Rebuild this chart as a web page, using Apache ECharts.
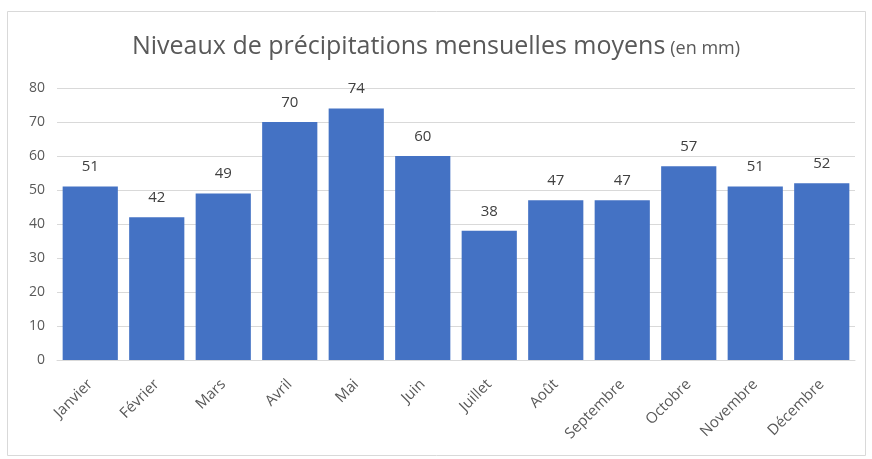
<!DOCTYPE html>
<html>
<head>
<meta charset="utf-8">
<script src="https://cdn.jsdelivr.net/npm/echarts@6/dist/echarts.min.js"></script>
<style>
  html, body { margin: 0; padding: 0; background: #ffffff; }
  #chart { width: 872px; height: 459px; }
</style>
</head>
<body>
<div id="chart"></div>
<script>
// Average monthly rainfall (mm)
const months = ['Janvier', 'Février', 'Mars', 'Avril', 'Mai', 'Juin', 'Juillet', 'Août', 'Septembre', 'Octobre', 'Novembre', 'Décembre'];
const rainfall = [51, 42, 49, 70, 74, 60, 38, 47, 47, 57, 51, 52];
const yTicks = { min: 0, max: 80, step: 10 };

const FONT = '"Open Sans", "Noto Sans", sans-serif';

const chart = echarts.init(document.getElementById('chart'), null, { renderer: 'canvas' });
chart.setOption({
  backgroundColor: '#ffffff',
  animation: false,
  graphic: [{
    type: 'rect',
    shape: { x: 7.5, y: 11.5, width: 858, height: 444 },
    style: { fill: 'none', stroke: '#d9d9d9', lineWidth: 1 },
    silent: true
  }],
  title: {
    text: '{main|Niveaux de précipitations mensuelles moyens} {small|(en mm)}',
    left: 'center',
    top: 29,
    textStyle: {
      fontWeight: 'normal',
      rich: {
        main: { fontFamily: FONT, fontSize: 25, fontWeight: 'normal', color: '#595959' },
        small: { fontFamily: FONT, fontSize: 18, fontWeight: 'normal', color: '#595959', padding: [4, 0, 0, 0] }
      }
    }
  },
  grid: { left: 57, right: 17, top: 88, bottom: 99, containLabel: false },
  xAxis: {
    type: 'category',
    data: months,
    axisLine: { lineStyle: { color: '#d9d9d9' } },
    axisTick: { show: false },
    axisLabel: {
      rotate: 45,
      interval: 0,
      margin: 22,
      fontFamily: FONT,
      fontSize: 15,
      color: '#595959'
    }
  },
  yAxis: {
    type: 'value',
    min: yTicks.min,
    max: yTicks.max,
    interval: yTicks.step,
    axisLine: { show: false },
    axisTick: { show: false },
    splitLine: { lineStyle: { color: '#d9d9d9' } },
    axisLabel: { fontFamily: FONT, fontSize: 14, color: '#595959', margin: 12 }
  },
  series: [{
    type: 'bar',
    data: rainfall,
    barCategoryGap: '17%',
    itemStyle: { color: '#4472c4' },
    label: {
      show: true,
      position: 'top',
      distance: 12,
      fontFamily: FONT,
      fontSize: 15,
      color: '#404040'
    }
  }]
});
</script>
</body>
</html>
